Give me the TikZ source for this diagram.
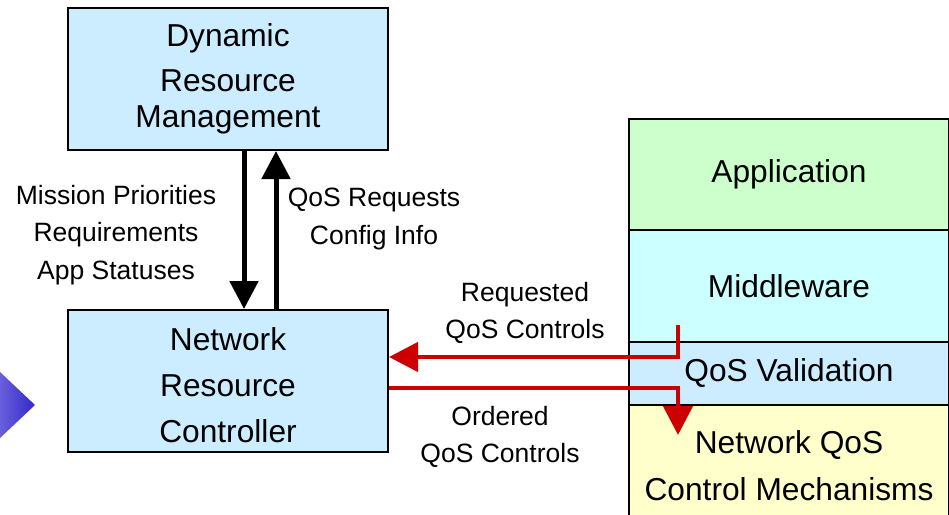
\documentclass[tikz,border=0pt]{standalone}
\usepackage{fontspec}
\setmainfont{Liberation Sans}
\usetikzlibrary{arrows.meta}

\definecolor{panelblue}{RGB}{204,236,255}
\definecolor{appgreen}{RGB}{204,255,204}
\definecolor{midcyan}{RGB}{204,255,255}
\definecolor{netyellow}{RGB}{255,255,204}
\definecolor{qosred}{RGB}{204,0,0}
\definecolor{pointerlight}{RGB}{105,95,220}
\definecolor{pointerdark}{RGB}{50,40,200}

\begin{document}
\begin{tikzpicture}[x=1pt,y=-1pt,
  box/.style={draw=black,line width=2pt,fill=panelblue,minimum width=320pt,
    minimum height=142pt,align=center,inner sep=0pt,
    font=\fontsize{31.7}{46}\selectfont},
  layer/.style={draw=black,line width=2pt,minimum width=320pt,anchor=north west,
    align=center,inner sep=0pt,font=\fontsize{31.7}{47}\selectfont},
  lbl/.style={align=center,inner sep=0pt,font=\fontsize{26.5}{37.5}\selectfont},
  flow/.style={line width=5pt,-{Triangle[length=28pt,width=28pt]}},
  qosflow/.style={draw=qosred,line width=4.5pt,line join=miter,
    -{Triangle[length=29pt,width=29pt]}}]

\useasboundingbox (0,0) rectangle (949,514);

% side pointer
\shade[left color=pointerlight,right color=pointerdark]
  (0,372) -- (35,405) -- (0,438) -- cycle;

% management and controller boxes
\node[box,font=\fontsize{31.7}{36}\selectfont] (drm) at (228,79)
  {Dynamic\\[9pt]Resource\\Management};
\node[box] (nrc) at (228,381) {\rule{0pt}{32pt}Network\\Resource\\Controller};

% protocol stack
\node[layer,fill=appgreen,minimum height=111pt] (app) at (628,118) {Application};
\node[layer,fill=midcyan,minimum height=112pt] (mid) at (628,229) {Middleware};
\node[layer,fill=panelblue,minimum height=63pt] (val) at (628,341) {QoS Validation};
\node[layer,fill=netyellow,minimum height=121pt] (net) at (628,404)
  {Network QoS\\Control Mechanisms};

% exchanges between management and controller
\draw[flow] ([xshift=16pt]drm.south) -- ([xshift=16pt]nrc.north);
\draw[flow] ([xshift=48pt]nrc.north) -- ([xshift=48pt]drm.south);

\node[lbl] (down) at (116,234.7) {Mission Priorities\\Requirements\\App Statuses};
\node[lbl] (up) at (374,219) {QoS Requests\\Config Info};

% QoS control paths
\coordinate (reqtop) at (678,325);
\coordinate (reqbend) at (678,357);
\draw[qosflow] (reqtop) -- (reqbend) -- (nrc.east |- reqbend);

\coordinate (ordbend) at (678,388);
\coordinate (ordtip) at (678,435);
\draw[qosflow] (nrc.east |- ordbend) -- (ordbend) -- (ordtip);

\node[lbl] (req) at (525,312.8) {Requested\\QoS Controls};
\node[lbl] (ord) at (500,436.7) {Ordered\\QoS Controls};

\end{tikzpicture}
\end{document}
